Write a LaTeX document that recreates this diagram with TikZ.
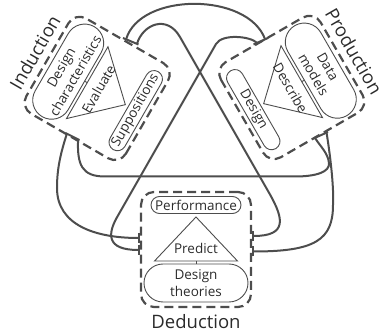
\documentclass[tikz,border=0pt]{standalone}
\usepackage{fontspec}
\setmainfont{Open Sans}
\usetikzlibrary{arrows.meta,calc}
\definecolor{inkline}{HTML}{4D4D4D}
\definecolor{inktext}{HTML}{2B2B2B}

\tikzset{
  stagebox/.style={draw=inkline, line width=2.2pt, dash pattern=on 9pt off 5pt,
    rounded corners=13pt, minimum width=110pt, minimum height=115pt, inner sep=0pt},
  pillin/.style={draw=inkline, line width=0.9pt, rounded corners=8.5pt,
    minimum width=90pt, minimum height=17pt, inner sep=0pt,
    font=\fontsize{13.5}{16.5}\selectfont, text=inktext},
  pillout/.style={draw=inkline, line width=0.9pt, rounded corners=19pt,
    minimum width=104pt, minimum height=38pt, inner sep=0pt, align=center,
    font=\fontsize{13.5}{16.5}\selectfont, text=inktext},
  tritext/.style={inner sep=0pt, font=\fontsize{13.5}{16.5}\selectfont, text=inktext},
  stagelabel/.style={inner sep=0pt, font=\fontsize{18.5}{22}\selectfont, text=inktext},
  thinline/.style={draw=inkline, line width=0.9pt, line join=miter},
  link/.style={draw=inkline, line width=2pt},
  barend/.style={-{Bar[width=10pt]}},
  edgebar/.style={draw=inkline, line width=2pt, line cap=butt},
}

% one stage: dashed frame, inner pill, triangle with its verb, outer pill, caption
% #1 prefix, #2 caption, #3 inner pill, #4 verb, #5 outer pill, #6 extra text turn
\newcommand\stagegroup[6]{%
  \node[stagebox] (#1-box) at (0,0) {};
  \node[pillin, rotate=#6] (#1-in) at (0,-44.5) {#3};
  \coordinate (#1-apex) at (0,-32.5);
  \coordinate (#1-bl) at (-41.5,11.5);
  \coordinate (#1-br) at (41.5,11.5);
  \draw[thinline] (#1-apex) -- (#1-bl) -- (#1-br) -- cycle;
  \node[tritext, rotate=#6] (#1-verb) at (0,-1.5) {#4};
  \node[pillout, rotate=#6] (#1-out) at (0,33.5) {#5};
  \draw[thinline] ($(#1-bl)!0.5!(#1-br)$) -- (#1-out);
  \node[stagelabel, rotate=#6] (#1-lab) at (0,72) {#2};
}

\begin{document}
\begin{tikzpicture}[x=1pt, y=-1pt]
\useasboundingbox (0,0) rectangle (384,334);

% the three stages
\begin{scope}[shift={(196,249.5)}, transform shape]
  \stagegroup{ded}{Deduction}{Performance}{Predict}{Design\\theories}{0}
\end{scope}
\begin{scope}[shift={(97.2,88.4)}, rotate=-120, transform shape]
  \stagegroup{ind}{Induction}{Suppositions}{Evaluate}{Design\\characteristics}{180}
\end{scope}
\begin{scope}[shift={(291.8,87.4)}, rotate=120, transform shape]
  \stagegroup{pro}{Production}{Design}{Describe}{Data\\models}{180}
\end{scope}

% link ends on the frames
\coordinate (ind-tr1) at (123,38);    \coordinate (ind-tr2) at (138.5,44.5);
\coordinate (pro-tl1) at (253.5,44.5); \coordinate (pro-tl2) at (268,38);
\coordinate (ind-bt1) at (65.5,133);  \coordinate (ind-bt2) at (79.5,140);
\coordinate (pro-bt1) at (313.5,138.5); \coordinate (pro-bt2) at (328,132);

\coordinate (c1s) at ($(ind-tr1)!0.2!(ind-tr2)$);
\coordinate (c6s) at ($(ind-tr1)!0.9!(ind-tr2)$);
\coordinate (c5s) at ($(pro-tl1)!0.25!(pro-tl2)$);
\coordinate (c1e) at ($(pro-tl1)!0.8!(pro-tl2)$);
\coordinate (c3s) at ($(ind-bt1)!0.1!(ind-bt2)$);
\coordinate (c2s) at ($(ind-bt1)!0.9!(ind-bt2)$);
\coordinate (c2e) at ($(pro-bt1)!0.1!(pro-bt2)$);
\coordinate (c4s) at ($(pro-bt1)!0.9!(pro-bt2)$);

\coordinate (ded-l1) at ($(ded-box.west)+(0,-11.5)$);
\coordinate (ded-l2) at ($(ded-box.west)+(0,0.5)$);
\coordinate (ded-r1) at ($(ded-box.east)+(0,-13.5)$);
\coordinate (ded-r2) at ($(ded-box.east)+(0,2)$);

\draw[edgebar] (ind-tr1) -- (ind-tr2);
\draw[edgebar] (pro-tl1) -- (pro-tl2);
\draw[edgebar] (ind-bt1) -- (ind-bt2);
\draw[edgebar] (pro-bt1) -- (pro-bt2);

% arc over the top
\draw[link] (c1s) .. controls (140,-8) and (248,-8) .. (c1e);
% Induction to Deduction through the upper crossing
\draw[link, barend] (c6s) .. controls (143,24) and (167.1,14.4) .. (180,37)
  -- (270.3,195) .. controls (283,218) and (288,236) .. (ded-r1);
% Production to Deduction through the upper crossing
\draw[link, barend] (c5s) .. controls (250,36) and (222,33.6) .. (216,44)
  -- (118.3,215) .. controls (107,234) and (106,250) .. (ded-l2);
% outer left arc
\draw[link, barend] (c3s) .. controls (60,155) and (57,170) .. (57,188)
  .. controls (57,225) and (95,238) .. (ded-l1);
% outer right arc
\draw[link, barend] (c4s) .. controls (331,160) and (334,190) .. (333,205)
  .. controls (333,240) and (315,251.5) .. (ded-r2);
% cross bar between Induction and Production
\draw[link] (c2s) .. controls (77,165) and (82,176.5) .. (105,176.5)
  -- (295,176.5) .. controls (316,176.5) and (330,172) .. (329,163)
  .. controls (328,153) and (320,146) .. (c2e);
\end{tikzpicture}
\end{document}
